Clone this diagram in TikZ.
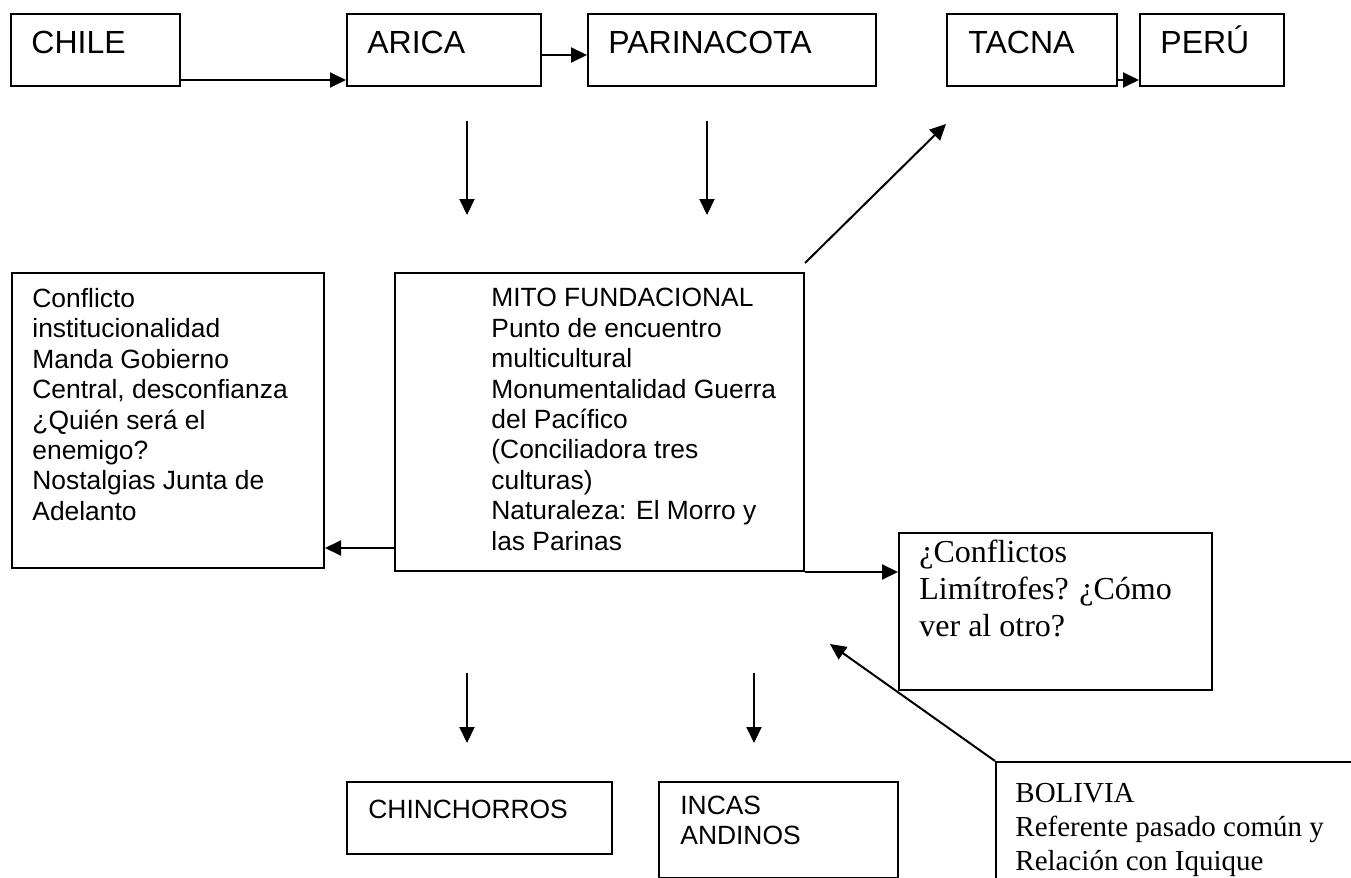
\documentclass[tikz,border=0pt]{standalone}
\usepackage{fontspec}
\setmainfont{Liberation Serif}
\setsansfont{Liberation Sans}
\usetikzlibrary{arrows.meta}

\begin{document}
\begin{tikzpicture}[x = 0.5pt, y = 0.5pt,
    box/.style = {draw, rectangle, line width = 1pt, inner sep = 0pt, anchor = north west},
    bigtxt/.style = {font = \sffamily\fontsize{16}{19}\selectfont, inner sep = 0pt, anchor = base west},
    txt/.style = {font = \sffamily\fontsize{13.2}{15.2}\selectfont, align = left, inner sep = 0pt, anchor = north west},
    serif/.style = {font = \fontsize{16}{18.35}\selectfont, align = left, inner sep = 0pt, anchor = north west},
    arr/.style = {draw, line width = 1pt, -{Triangle[length = 8pt, width = 7.5pt]}}]
        \path[use as bounding box] (0, 0) rectangle (1351, -878);
        \clip (0, 0) rectangle (1351, -878);

        % top row
        \node[box, minimum width = 84.5pt, minimum height = 36pt] at (10, -13) (chile) {};
        \node[box, minimum width = 97pt, minimum height = 36pt] at (346, -13) (arica) {};
        \node[box, minimum width = 144pt, minimum height = 36pt] at (587, -13) (parina) {};
        \node[box, minimum width = 85pt, minimum height = 36pt] at (946, -13) (tacna) {};
        \node[box, minimum width = 72pt, minimum height = 36pt] at (1139, -13) (peru) {};
        \node[bigtxt] at ([xshift = 10.5pt, yshift = -20.5pt] chile.north west) (chilet) {CHILE};
        \node[bigtxt] at ([xshift = 10.5pt, yshift = -20.5pt] arica.north west) (aricat) {ARICA};
        \node[bigtxt] at ([xshift = 10.5pt, yshift = -20.5pt] parina.north west) (parinat) {PARINACOTA};
        \node[bigtxt] at ([xshift = 11pt, yshift = -20.5pt] tacna.north west) (tacnat) {TACNA};
        \node[bigtxt] at ([xshift = 10.5pt, yshift = -20.5pt] peru.north west) (perut) {PERÚ};

        % middle row
        \node[box, minimum width = 156pt, minimum height = 147.5pt] at (11, -272) (confl) {};
        \node[box, minimum width = 204.5pt, minimum height = 149pt] at (394, -272) (mito) {};
        \node[box, minimum width = 156.5pt, minimum height = 78.5pt] at (898, -532) (limit) {};
        \node[txt] at ([xshift = 10.5pt, yshift = -8pt] confl.north west) (conflt) {Conflicto\\ institucionalidad\\ Manda Gobierno\\ Central, desconfianza\\ ¿Quién será el\\ enemigo?\\ Nostalgias Junta de\\ Adelanto};
        \node[txt] at ([xshift = 48.5pt, yshift = -8pt] mito.north west) (mitot) {MITO FUNDACIONAL\\ Punto de encuentro\\ multicultural\\ Monumentalidad Guerra\\ del Pacífico\\ (Conciliadora tres\\ culturas)\\ Naturaleza: El Morro y\\ las Parinas};
        \node[serif] at ([xshift = 10.5pt, yshift = -4pt] limit.north west) (limitt) {¿Conflictos\\ Limítrofes? ¿Cómo\\ ver al otro?};

        % bottom row
        \node[box, minimum width = 132.5pt, minimum height = 36pt] at (346, -781) (chinch) {};
        \node[box, minimum width = 119.5pt, minimum height = 48pt] at (658, -781) (incas) {};
        \node[box, minimum width = 210pt, minimum height = 80pt] at (995, -761) (bolivia) {};
        \node[txt, anchor = base west] at ([xshift = 11pt, yshift = -18.5pt] chinch.north west) (chincht) {CHINCHORROS};
        \node[txt, font = \sffamily\fontsize{13.2}{15}\selectfont] at ([xshift = 11pt, yshift = -7.5pt] incas.north west) (incast) {INCAS\\ ANDINOS};
        \node[serif, font = \fontsize{14.5}{17}\selectfont] at ([xshift = 10pt, yshift = -11pt] bolivia.north west) (boliviat) {BOLIVIA\\ Referente pasado común y\\ Relación con Iquique};

        % arrows
        \path[arr] ([yshift = 3.5pt] chile.south east) -- ([yshift = 3.5pt] arica.south west);
        \path[arr] ([yshift = 16pt] arica.south east) -- ([yshift = 16pt] parina.south west);
        \path[arr] ([yshift = 3.5pt] tacna.south east) -- ([yshift = 3.5pt] peru.south west);
        \path[arr, shorten <= 17pt, shorten >= 28.5pt] ([xshift = 60.5pt] arica.south west) -- ([xshift = 60.5pt] arica.south west |- mito.north);
        \path[arr, shorten <= 17pt, shorten >= 28.5pt] ([xshift = 60pt] parina.south west) -- ([xshift = 60pt] parina.south west |- mito.north);
        \path[arr] ([yshift = 4.5pt] mito.north east) -- ([yshift = -18.5pt] tacna.south west);
        \path[arr] ([yshift = 12pt] mito.south west) -- ([yshift = 12pt] mito.south west -| confl.east);
        \path[arr] (mito.south east) -- (mito.south east -| limit.west);
        \path[arr, shorten <= 50.5pt, shorten >= 19pt] ([xshift = 36.5pt] mito.south west) -- ([xshift = 36.5pt] mito.south west |- chinch.north);
        \path[arr, shorten <= 50.5pt, shorten >= 19pt] ([xshift = 180pt] mito.south west) -- ([xshift = 180pt] mito.south west |- incas.north);
        \path[arr] (bolivia.north west) -- ([xshift = 12.5pt, yshift = -36pt] mito.south east);
\end{tikzpicture}
\end{document}
